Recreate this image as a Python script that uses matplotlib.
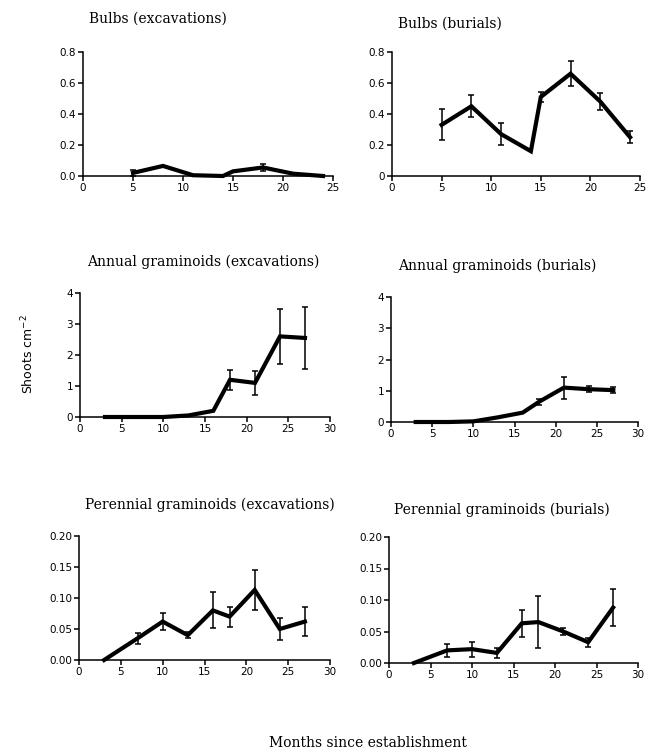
import matplotlib
matplotlib.use("Agg")
import matplotlib.pyplot as plt

# ---------------- data ----------------
bulb_months = [5, 8, 11, 14, 15, 18, 21, 24]
bulbs_exc = [0.02, 0.065, 0.005, 0.0, 0.03, 0.055, 0.015, 0.0]
bulbs_exc_err = [0.02, 0.0, 0.0, 0.0, 0.0, 0.02, 0.0, 0.0]
bulbs_bur = [0.33, 0.45, 0.27, 0.16, 0.51, 0.66, 0.48, 0.25]
bulbs_bur_err = [0.10, 0.07, 0.07, 0.0, 0.035, 0.08, 0.055, 0.04]

gram_months = [3, 7, 10, 13, 16, 18, 21, 24, 27]
annual_exc = [0.0, 0.0, 0.0, 0.05, 0.2, 1.2, 1.1, 2.6, 2.55]
annual_exc_err = [0.0, 0.0, 0.0, 0.0, 0.0, 0.33, 0.38, 0.9, 1.0]
annual_bur = [0.0, 0.0, 0.02, 0.15, 0.3, 0.65, 1.1, 1.05, 1.02]
annual_bur_err = [0.0, 0.0, 0.0, 0.0, 0.0, 0.1, 0.35, 0.1, 0.1]
perennial_exc = [0.0, 0.035, 0.062, 0.04, 0.08, 0.07, 0.113, 0.05, 0.062]
perennial_exc_err = [0.0, 0.009, 0.014, 0.005, 0.029, 0.016, 0.032, 0.017, 0.023]
perennial_bur = [0.0, 0.02, 0.022, 0.016, 0.063, 0.065, 0.05, 0.033, 0.088]
perennial_bur_err = [0.0, 0.01, 0.012, 0.008, 0.021, 0.041, 0.006, 0.007, 0.029]

titles = ["Bulbs (excavations)", "Bulbs (burials)",
          "Annual graminoids (excavations)", "Annual graminoids (burials)",
          "Perennial graminoids (excavations)", "Perennial graminoids (burials)"]
ylabel = "Shoots cm$^{\\mathregular{-2}}$"
xlabel = "Months since establishment"

W, H = 656, 754
fig = plt.figure(figsize=(W / 100, H / 100), dpi=100)

def box(l, r, t, b):
    return [l / W, 1 - b / H, (r - l) / W, (b - t) / H]

panels = [
    (box(83, 333, 52, 176), bulb_months, bulbs_exc, bulbs_exc_err, (0, 25), (0, 0.8),
     [0, 5, 10, 15, 20, 25], [0.0, 0.2, 0.4, 0.6, 0.8], "{:.1f}", (158, 19)),
    (box(392, 640, 52, 176), bulb_months, bulbs_bur, bulbs_bur_err, (0, 25), (0, 0.8),
     [0, 5, 10, 15, 20, 25], [0.0, 0.2, 0.4, 0.6, 0.8], "bur", (450, 24)),
    (box(80, 330, 293, 417), gram_months, annual_exc, annual_exc_err, (0, 30), (0, 4),
     [0, 5, 10, 15, 20, 25, 30], [0, 1, 2, 3, 4], "{:.0f}", (203, 262)),
    (box(391, 638, 297, 422), gram_months, annual_bur, annual_bur_err, (0, 30), (0, 4),
     [0, 5, 10, 15, 20, 25, 30], [0, 1, 2, 3, 4], "{:.0f}", (497, 266)),
    (box(79, 330, 536, 660), gram_months, perennial_exc, perennial_exc_err, (0, 30), (0, 0.2),
     [0, 5, 10, 15, 20, 25, 30], [0.0, 0.05, 0.10, 0.15, 0.20], "{:.2f}", (210, 505)),
    (box(389, 638, 537, 663), gram_months, perennial_bur, perennial_bur_err, (0, 30), (0, 0.2),
     [0, 5, 10, 15, 20, 25, 30], [0.0, 0.05, 0.10, 0.15, 0.20], "{:.2f}", (502, 510)),
]

for (rect, xs, ys, es, xl, yl, xt, yt, fmt, tpos), title in zip(panels, titles):
    ax = fig.add_axes(rect)
    ax.plot(xs, ys, color="black", lw=3.0, solid_joinstyle="miter", clip_on=False, zorder=3)
    ex = [x for x, e in zip(xs, es) if e > 0]
    ey = [y for y, e in zip(ys, es) if e > 0]
    ee = [e for e in es if e > 0]
    ax.errorbar(ex, ey, yerr=ee, fmt="none", ecolor="black", elinewidth=1.1,
                capsize=2.0, capthick=1.1, zorder=4)
    ax.set_xlim(*xl)
    ax.set_ylim(*yl)
    ax.set_xticks(xt)
    ax.set_yticks(yt)
    if fmt == "bur":
        labs = ["0"] + ["{:.1f}".format(v) for v in yt[1:]]
    else:
        labs = [fmt.format(v) for v in yt]
    ax.set_yticklabels(labs)
    ax.spines["top"].set_visible(False)
    ax.spines["right"].set_visible(False)
    for s in ("left", "bottom"):
        ax.spines[s].set_linewidth(1.1)
    ax.tick_params(direction="out", length=3.5, width=1.1, labelsize=7.5, pad=1.5)
    for lab in ax.get_xticklabels() + ax.get_yticklabels():
        lab.set_fontfamily("DejaVu Sans")
    fig.text(tpos[0] / W, 1 - tpos[1] / H, title, ha="center", va="center",
             fontsize=10, family="DejaVu Serif")

fig.text(28 / W, 1 - 354 / H, ylabel, rotation=90, ha="center", va="center",
         fontsize=9, family="DejaVu Sans")
fig.text(368 / W, 1 - 743 / H, xlabel, ha="center", va="center",
         fontsize=10, family="DejaVu Serif")

fig.savefig("out.png", dpi=100, facecolor="white")
